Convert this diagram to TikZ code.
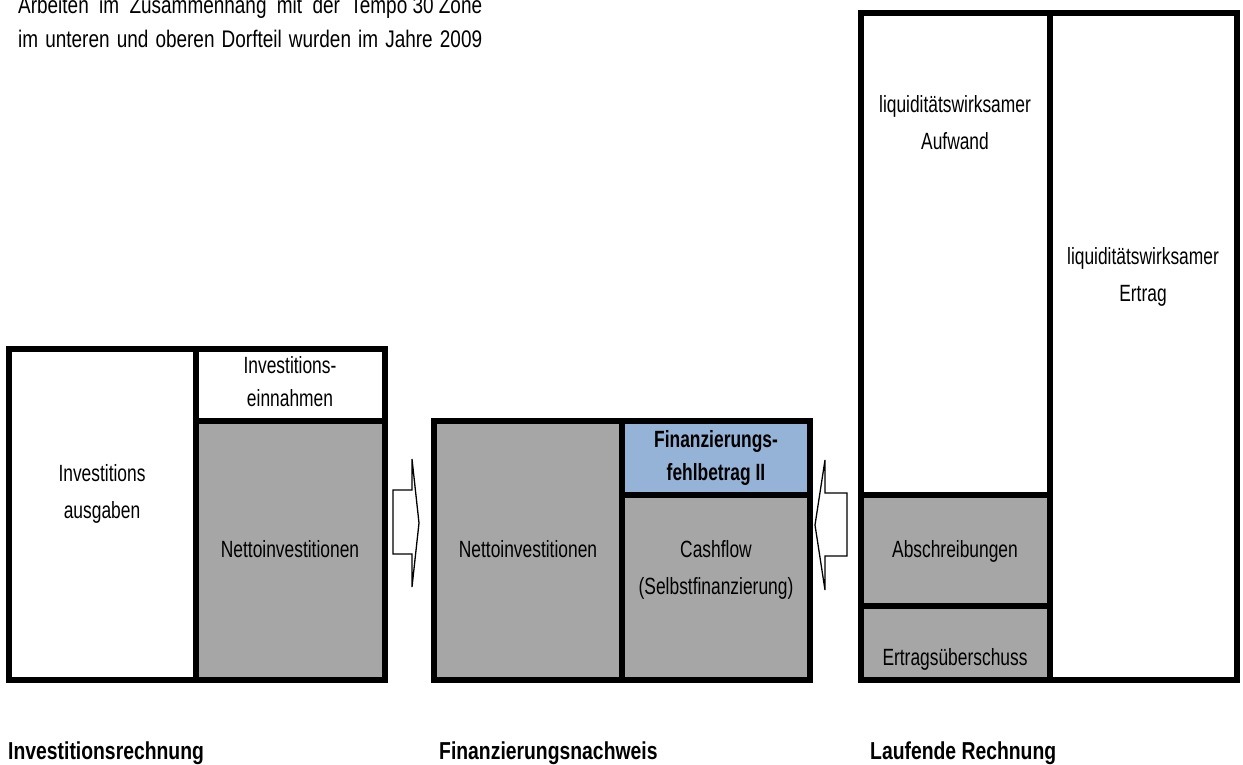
\documentclass[tikz,border=0pt]{standalone}
\usepackage{fontspec}
\setmainfont{Liberation Sans}[FakeStretch=0.79]
\newfontfamily\cellfont{Liberation Sans}[FakeStretch=0.74]
\usepackage{tikz}
\definecolor{cellgray}{HTML}{A6A6A6}
\definecolor{cellblue}{HTML}{95B3D7}
\newcommand\cellstrut{\rule[-5pt]{0pt}{21pt}}
\tikzset{
  frame/.style={draw=black, line width=6pt, line join=miter},
  grey/.style={fill=cellgray},
  gap/.style={fill=cellblue},
  flow/.style={draw=black, fill=white, line width=1.3pt, line join=miter},
  lab/.style={font=\cellfont\fontsize{23.5}{37}\selectfont, align=center, inner sep=0pt},
  labs/.style={lab, font=\cellfont\fontsize{23.5}{33}\selectfont},
  labb/.style={lab, font=\cellfont\bfseries\fontsize{23.5}{33}\selectfont},
  head/.style={font=\bfseries\fontsize{24.5}{29}\selectfont, anchor=base west, inner sep=0pt},
  body/.style={font=\fontsize{24}{34}\selectfont, anchor=base west, inner sep=0pt},
}

\begin{document}
\begin{tikzpicture}[x=1pt, y=-1pt]
  \useasboundingbox (0,0) rectangle (1243,764);
  % text above, cut by the page edge
  \node[body] (txtA) at (18,13) {\makebox[464pt][s]{Arbeiten im Zusammenhang mit der \mbox{Tempo 30 Zone}}};
  \node[body] (txtB) at (18,47) {\makebox[464pt][s]{im unteren und oberen Dorfteil wurden im Jahre 2009}};

  % Investitionsrechnung
  \fill[grey] (196,421) rectangle (385,680);
  \draw[frame] (9,349) rectangle (385,680) (196,349) -- (196,680) (196,421) -- (385,421);
  \node[lab] (ausg) at (102,494) {\cellstrut Investitions\\\cellstrut ausgaben};
  \node[labs] (einn) at (290,384) {\cellstrut Investitions-\\\cellstrut einnahmen};
  \node[lab] (nettoL) at (290,551) {\cellstrut Nettoinvestitionen};

  % Finanzierungsnachweis
  \fill[grey] (434,421) rectangle (810,680);
  \fill[gap] (622,421) rectangle (810,495);
  \draw[frame] (434,421) rectangle (810,680) (622,421) -- (622,680) (622,495) -- (810,495);
  \node[lab] (nettoM) at (528,551) {\cellstrut Nettoinvestitionen};
  \node[labb] (fehl) at (716,458) {\cellstrut Finanzierungs-\\\cellstrut fehlbetrag II};
  \node[lab] (cash) at (716,570) {\cellstrut Cashflow\\\cellstrut (Selbstfinanzierung)};

  % Laufende Rechnung
  \fill[grey] (861,495) rectangle (1050,680);
  \draw[frame] (861,13) rectangle (1237,680) (1050,13) -- (1050,680) (861,495) -- (1050,495) (861,606) -- (1050,606);
  \node[lab] (aufw) at (955,125) {\cellstrut liquiditätswirksamer\\\cellstrut Aufwand};
  \node[lab] (ertr) at (1143,277) {\cellstrut liquiditätswirksamer\\\cellstrut Ertrag};
  \node[lab] (abschr) at (955,551) {\cellstrut Abschreibungen};
  \node[lab] (ueber) at (955,659) {\cellstrut Ertragsüberschuss};

  % block arrows
  \draw[flow] (393,490) -- (412,490) -- (412,459) -- (419,523) -- (412,587) -- (412,554) -- (393,554) -- cycle;
  \draw[flow] (847,493) -- (825,493) -- (825,460) -- (815,525) -- (825,590) -- (825,556) -- (847,556) -- cycle;

  % captions
  \node[head] (capI) at (8,759) {Investitionsrechnung};
  \node[head] (capF) at (439,759) {Finanzierungsnachweis};
  \node[head] (capL) at (870,759) {Laufende Rechnung};
\end{tikzpicture}
\end{document}
